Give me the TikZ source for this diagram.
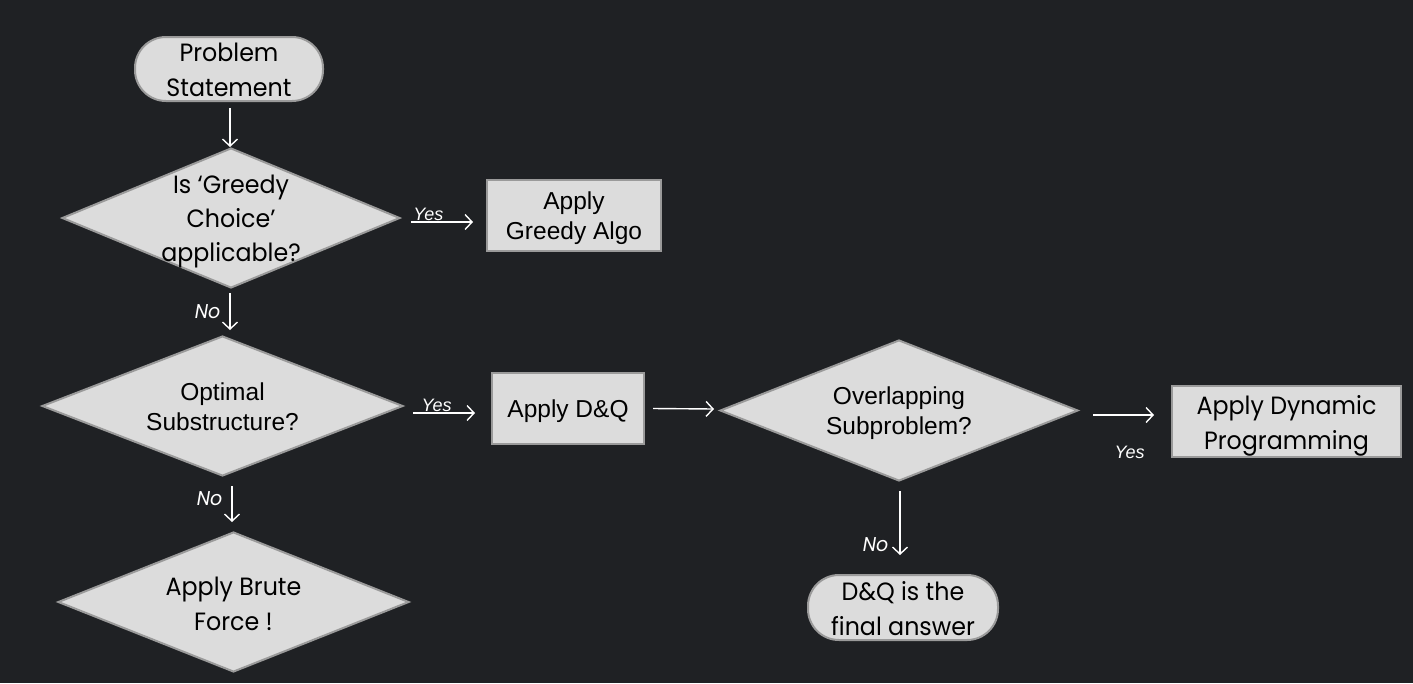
\documentclass[tikz,border=0pt]{standalone}
\usepackage{fontspec}
\usetikzlibrary{shapes.geometric,arrows.meta,calc}
\newfontfamily\futf[FakeStretch=0.95]{Poppins}
\newfontfamily\arif{Liberation Sans}
\definecolor{bg}{HTML}{1F2124}
\definecolor{boxfill}{HTML}{DCDCDC}
\definecolor{boxline}{HTML}{9A9A9A}
\tikzset{
  x=1pt, y=-1pt,
  base/.style={draw=boxline, line width=2pt, fill=boxfill, inner sep=0pt, text=black},
  dia/.style={base, diamond, aspect=2.4},
  rbox/.style={base, rectangle},
  term/.style={base, rectangle, rounded corners=31pt},
  futtxt/.style={align=center, font=\futf\fontsize{25}{35}\selectfont, text=black},
  aritxt/.style={align=center, font=\arif\fontsize{24.5}{30}\selectfont, text=black},
  arr/.style={draw=white, line width=1.4pt, -{Straight Barb[length=7pt,width=15pt,line width=1.4pt]}},
  yeslbl/.style={text=white, font=\arif\itshape\fontsize{18}{20}\selectfont, inner sep=0.5pt},
  nolbl/.style={text=white, font=\futf\itshape\fontsize{20}{22}\selectfont, inner sep=1pt},
}
\begin{document}
\begin{tikzpicture}
\fill[bg] (0,0) rectangle (1413,683);
\useasboundingbox (0,0) rectangle (1413,683);

% nodes
\node[term, minimum width=188pt, minimum height=64pt] (ps) at (229,69) {};
\node[futtxt] at ([yshift=-1pt]ps) {Problem\\Statement};

\node[dia, minimum width=338pt, minimum height=140pt] (d1) at (231,218) {};
\node[futtxt, font=\futf\fontsize{25}{34}\selectfont] at ([yshift=-3pt]d1) {Is ‘Greedy\\Choice’\\applicable?};

\node[rbox, minimum width=174pt, minimum height=71pt] (g) at (574,215.5) {};
\node[aritxt] at ([yshift=-3pt]g) {Apply\\Greedy Algo};

\node[dia, minimum width=361pt, minimum height=140pt] (d2) at (222.5,406) {};
\node[aritxt] at ([yshift=-1pt]d2) {Optimal\\Substructure?};

\node[rbox, minimum width=152pt, minimum height=71pt] (dq) at (568,408.5) {};
\node[aritxt] at ([yshift=-3pt]dq) {Apply D\&Q};

\node[dia, minimum width=358pt, minimum height=141pt] (d3) at (899,410.5) {};
\node[aritxt] at ([yshift=-3pt]d3) {Overlapping\\Subproblem?};

\node[rbox, minimum width=229pt, minimum height=71pt] (dp) at (1286.5,421.5) {};
\node[futtxt] at ([yshift=-4pt]dp) {Apply Dynamic\\Programming};

\node[term, minimum width=190pt, minimum height=65pt] (fa) at (903,607.5) {};
\node[futtxt] at ([yshift=-1pt]fa) {D\&Q is the\\final answer};

\node[dia, minimum width=351pt, minimum height=140pt] (d4) at (233.5,602) {};
\node[futtxt] at ([yshift=-1.5pt]d4) {Apply Brute\\Force !};

% connectors
\draw[arr] ([xshift=1pt,yshift=-6pt]ps.south) -- ([xshift=-1pt]d1.north);
\draw[arr] ([xshift=10pt,yshift=-4pt]d1.east) -- node[yeslbl, pos=0.28, above] {Yes} ([xshift=-13pt,yshift=-6.5pt]g.west);
\draw[arr] ([xshift=-1pt,yshift=-4pt]d1.south) -- node[nolbl, midway, left=8pt] {No} ([xshift=7.5pt,yshift=5pt]d2.north);
\draw[arr] ([xshift=9pt,yshift=-7pt]d2.east) -- node[yeslbl, pos=0.38, above] {Yes} ([xshift=-16pt,yshift=-4.5pt]dq.west);
\draw[arr] ([xshift=8pt]dq.east) -- ([xshift=-5pt,yshift=1.5pt]d3.west);
\draw[arr] ([xshift=14pt,yshift=-4.5pt]d3.east) -- node[yeslbl, pos=0.6, below=30pt] {Yes} ([xshift=-17pt,yshift=6.5pt]dp.west);
\draw[arr] ([xshift=1pt,yshift=-9pt]d3.south) -- node[nolbl, pos=0.83, left=10pt] {No} ([xshift=-3pt,yshift=19pt]fa.north);
\draw[arr] ([xshift=9.5pt,yshift=-9pt]d2.south) -- node[nolbl, pos=0.35, left=8pt] {No} ([xshift=-1.5pt,yshift=9pt]d4.north);
\end{tikzpicture}
\end{document}
